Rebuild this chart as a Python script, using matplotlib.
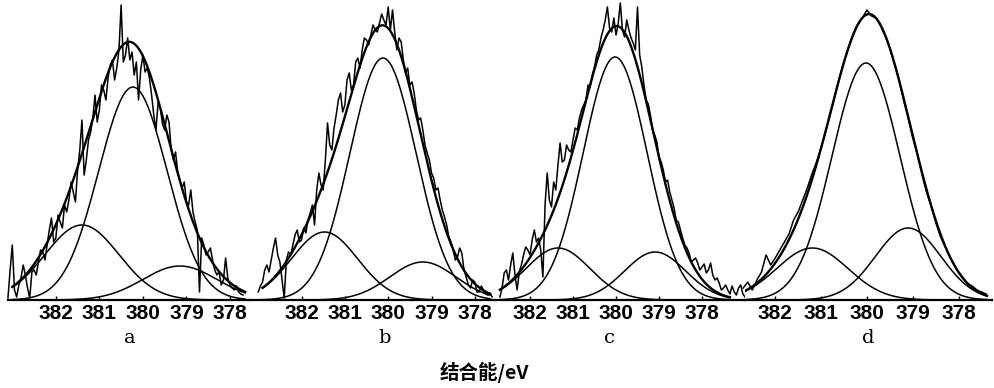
import numpy as np
import matplotlib
matplotlib.use("Agg")
import matplotlib.pyplot as plt

# ---- data (intensity in arbitrary units) ----
panels = ["a", "b", "c", "d"]
ticks = [382, 381, 380, 379, 378]

# x range of each panel (eV, high -> low)
xlims = [(383.10, 377.54), (383.19, 377.58), (382.86, 377.00), (382.66, 377.27)]

# fitted Gaussian components: [N-main, N-high-BE, N-low-BE]
peak_center = [[380.23, 381.40, 379.15],
               [380.12, 381.47, 379.20],
               [380.02, 381.35, 379.09],
               [380.02, 381.19, 379.10]]
peak_height = [[213, 75, 34],
               [242, 68, 38],
               [243, 52, 48],
               [237, 52, 72]]
peak_fwhm = [[1.85, 2.00, 2.00],
             [1.80, 1.80, 1.80],
             [1.75, 1.75, 1.67],
             [1.75, 1.83, 1.68]]
fit_range = [(383.0, 377.65), (382.9, 377.65), (382.7, 377.35), (382.66, 377.38)]

# raw spectra, sampled every raw_step eV starting at raw_start
raw_start = [383.1, 383.0, 382.7, 382.7]
raw_step = [0.05, 0.05, 0.05, 0.1]
raw_a = [2, 30, 55, 10, 3, 15, 22, 35, 25, 12, 2, 28, 30, 25, 38, 50, 48, 40,
         55, 70, 82, 58, 62, 85, 78, 72, 95, 88, 100, 118, 108, 98, 130, 150,
         180, 125, 140, 160, 168, 182, 205, 178, 190, 215, 210, 200, 222, 235,
         240, 220, 232, 250, 295, 238, 245, 262, 240, 248, 225, 238, 200, 230,
         245, 228, 232, 222, 205, 185, 170, 198, 192, 176, 170, 185, 178, 150,
         140, 148, 128, 120, 112, 118, 98, 95, 110, 88, 78, 70, 8, 62, 55, 45,
         48, 52, 40, 30, 25, 28, 15, 20, 42, 22, 15, 12, 10, 14, 8, 6, 5]
raw_b = [8, 14, 18, 30, 35, 28, 40, 52, 62, 45, 38, 20, 2, 40, 48, 45, 55, 65,
         70, 58, 60, 72, 67, 80, 87, 95, 75, 110, 127, 115, 110, 140, 177, 155,
         150, 172, 185, 200, 207, 188, 195, 220, 227, 210, 215, 238, 242, 232,
         250, 262, 260, 255, 265, 275, 270, 268, 277, 286, 280, 275, 293, 270,
         290, 268, 250, 262, 258, 240, 227, 232, 215, 218, 207, 190, 180, 182,
         170, 155, 147, 140, 127, 122, 110, 112, 100, 90, 83, 75, 63, 58, 50,
         40, 43, 52, 47, 30, 23, 15, 12, 20, 18, 8, 8, 14, 10, 6, 5, 7, 3]
raw_c = [3, 12, 27, 30, 20, 35, 47, 25, 10, 28, 35, 45, 53, 50, 45, 60, 70, 58,
         62, 50, 23, 95, 127, 100, 93, 118, 110, 135, 157, 138, 140, 155, 150,
         148, 160, 172, 170, 182, 190, 195, 200, 215, 213, 225, 233, 245, 250,
         262, 270, 280, 293, 272, 268, 282, 265, 276, 297, 270, 263, 280, 270,
         262, 257, 250, 293, 245, 233, 215, 200, 196, 185, 170, 165, 158, 143,
         138, 130, 118, 120, 108, 100, 92, 80, 78, 70, 62, 55, 52, 47, 38, 40,
         42, 37, 30, 33, 36, 27, 30, 37, 25, 20, 22, 17, 10, 12, 15, 10, 6, 14,
         8, 5, 12, 15, 6, 3]
raw_d = [12, 18, 10, 20, 28, 45, 35, 42, 50, 58, 66, 80, 88, 100, 112, 126,
         138, 152, 168, 186, 204, 222, 238, 252, 266, 276, 282, 290, 284, 282,
         274, 264, 252, 236, 220, 200, 182, 162, 146, 126, 108, 94, 78, 64, 54,
         44, 36, 28, 22, 16, 14, 10, 8, 6]
raws = [raw_a, raw_b, raw_c, raw_d]

# ---- layout (figure fractions) ----
ax_left = [0.008, 0.2515, 0.496, 0.7495]
ax_width = [0.2435, 0.2445, 0.2535, 0.2485]
label_x = [380.3, 380.08, 380.14, 379.96]

plt.rcParams["font.family"] = ["Liberation Sans", "DejaVu Sans"]

fig = plt.figure(figsize=(9.94, 3.88), dpi=100)


def gauss(e, c, h, fwhm):
    s = fwhm / 2.3548
    return h * np.exp(-0.5 * ((e - c) / s) ** 2)


for i, name in enumerate(panels):
    ax = fig.add_axes([ax_left[i], 0.2268, ax_width[i], 0.7732])
    ax.set_xlim(*xlims[i])
    ax.set_ylim(0, 300)

    e_raw = raw_start[i] - raw_step[i] * np.arange(len(raws[i]))
    ax.plot(e_raw, raws[i], color="black", lw=1.1, clip_on=False)

    e_fit = np.linspace(fit_range[i][0], fit_range[i][1], 300)
    total = np.zeros_like(e_fit)
    for c, h, w in zip(peak_center[i], peak_height[i], peak_fwhm[i]):
        comp = gauss(e_fit, c, h, w)
        total += comp
        ax.plot(e_fit, comp, color="black", lw=1.1)
    ax.plot(e_fit, total, color="black", lw=1.7)

    for side in ["top", "left", "right"]:
        ax.spines[side].set_visible(False)
    ax.spines["bottom"].set_linewidth(1.6)
    ax.set_yticks([])
    ax.set_xticks(ticks)
    ax.set_xticklabels([str(t) for t in ticks], fontsize=15,
                       fontweight="bold",
                       family=["Liberation Sans Narrow", "Liberation Sans"])
    ax.tick_params(axis="x", direction="in", length=3, width=1, pad=3)

    ax.text(label_x[i], -0.125, name, transform=ax.get_xaxis_transform(),
            ha="center", va="center", fontsize=14, family="DejaVu Serif")

fig.text(0.4875, 0.039, "结合能/eV", ha="center", va="center", fontsize=14,
         fontweight="heavy", family=["Noto Sans CJK SC", "DejaVu Sans"])

fig.savefig("out.png", dpi=100)
